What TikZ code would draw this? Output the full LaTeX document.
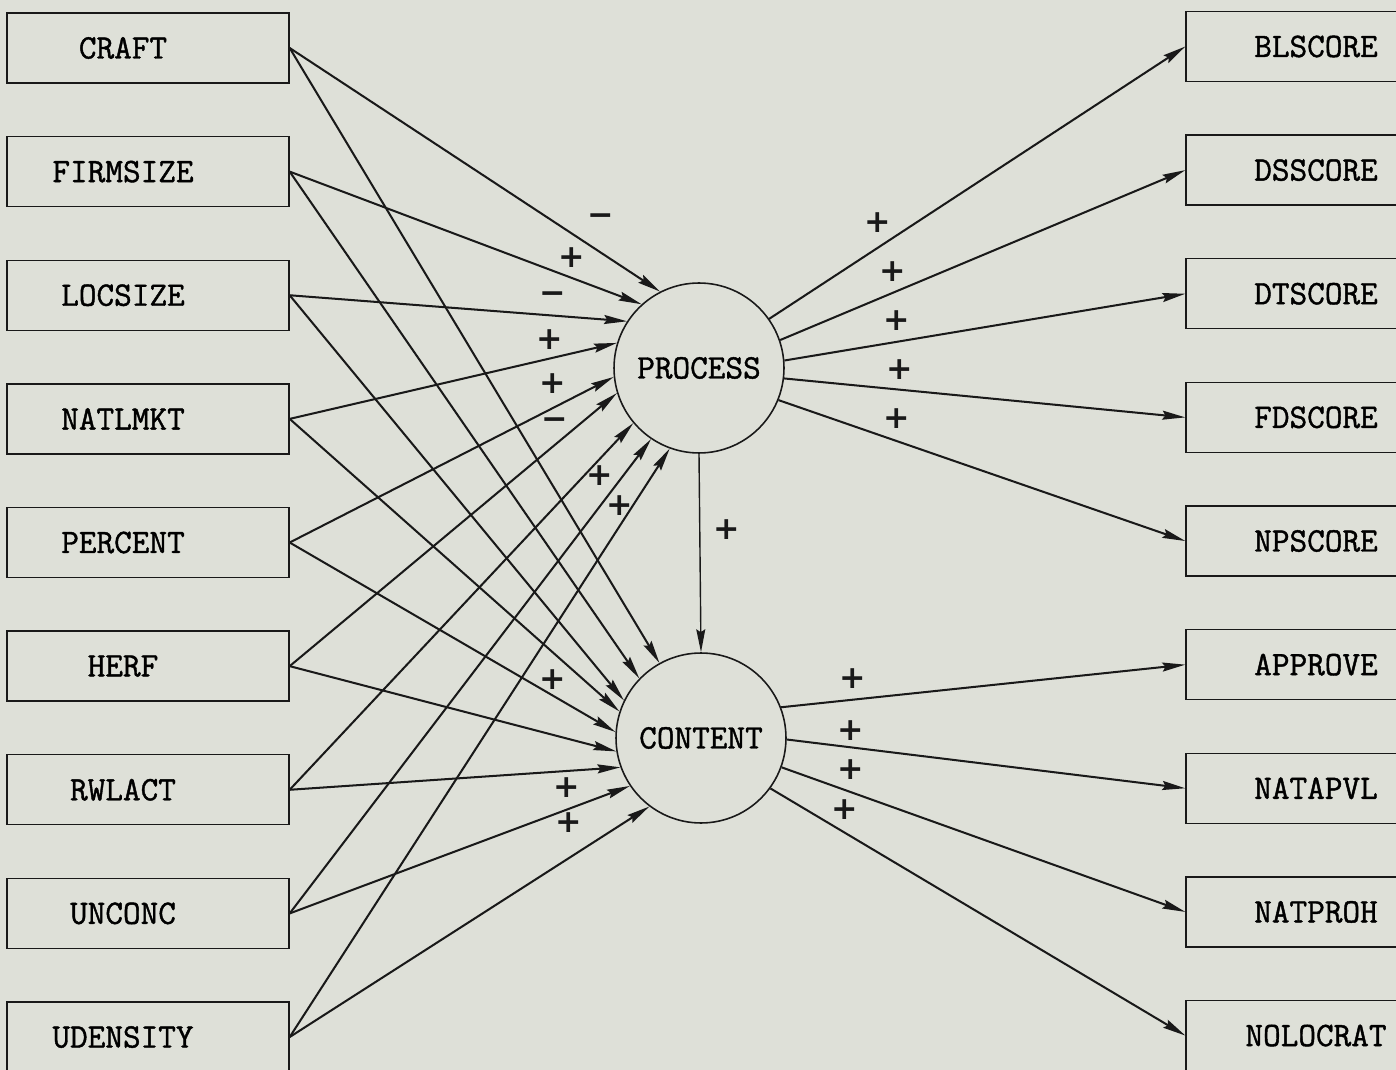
\documentclass[tikz,border=0pt]{standalone}
\usepackage{fontspec}
\usepackage{tikz}
\usetikzlibrary{arrows.meta,positioning}
\newfontfamily\boxfont{Latin Modern Mono}[FakeBold=1.2]
\newfontfamily\signfont{DejaVu Sans}
\definecolor{paper}{RGB}{222,224,216}
\definecolor{ink}{RGB}{25,25,25}

\begin{document}
\begin{tikzpicture}[
  x=0.02cm, y=-0.02cm,
  font=\fontsize{19.5}{21}\selectfont\boxfont,
  node distance=1.045cm,
  lbox/.style={draw=ink,line width=0.8pt,minimum width=5.64cm,minimum height=1.4cm,inner sep=0pt,label={[xshift=-0.5cm]center:#1}},
  rbox/.style={draw=ink,line width=0.8pt,minimum width=5.64cm,minimum height=1.4cm,inner sep=0pt,label={[xshift=-0.22cm]center:#1}},
  latent/.style={circle,draw=ink,fill=paper,line width=0.9pt,minimum size=3.4cm,inner sep=0pt},
  arr/.style={-{Stealth[length=4.6mm,width=1.8mm,inset=0.6mm]},line width=1.15pt,draw=ink},
  sgn/.style={font=\fontsize{18}{18}\selectfont\signfont\bfseries,inner sep=0pt,text=ink},
]
\clip (0,0) rectangle (1396,1070);
\fill[paper] (0,0) rectangle (1396,1070);

% exogenous variables
\node[lbox=CRAFT] (craft) at (148,48) {};
\node[lbox=FIRMSIZE,below=of craft] (firmsize) {};
\node[lbox=LOCSIZE,below=of firmsize] (locsize) {};
\node[lbox=NATLMKT,below=of locsize] (natlmkt) {};
\node[lbox=PERCENT,below=of natlmkt] (percent) {};
\node[lbox=HERF,below=of percent] (herf) {};
\node[lbox=RWLACT,below=of herf] (rwlact) {};
\node[lbox=UNCONC,below=of rwlact] (unconc) {};
\node[lbox=UDENSITY,below=of unconc] (udensity) {};

% indicators
\node[rbox=BLSCORE] (blscore) at (1327,46.5) {};
\node[rbox=DSSCORE,below=of blscore] (dsscore) {};
\node[rbox=DTSCORE,below=of dsscore] (dtscore) {};
\node[rbox=FDSCORE,below=of dtscore] (fdscore) {};
\node[rbox=NPSCORE,below=of fdscore] (npscore) {};
\node[rbox=APPROVE,below=of npscore] (approve) {};
\node[rbox=NATAPVL,below=of approve] (natapvl) {};
\node[rbox=NATPROH,below=of natapvl] (natproh) {};
\node[rbox=NOLOCRAT,below=of natproh] (nolocrat) {};

% latent constructs
\node[latent] (process) at (699,368) {PROCESS};
\node[latent] (content) at (701,738) {CONTENT};

\foreach \src/\a/\b in {craft/117/119, firmsize/132/136, locsize/147/154,
    natlmkt/163/162, percent/186/176, herf/197/189, rwlact/220/200,
    unconc/236/214, udensity/250/233}{
  \draw[arr] (\src.east) -- (process.\a);
  \draw[arr] (\src.east) -- (content.\b);
}
\foreach \a/\dst in {35/blscore, 19/dsscore, 5/dtscore, -7/fdscore, -22/npscore}
  \draw[arr] (process.\a) -- (\dst.west);
\foreach \a/\dst in {21/approve, -1/natapvl, -20/natproh, -36/nolocrat}
  \draw[arr] (content.\a) -- (\dst.west);
\draw[arr,line width=0.8pt] (process.south) -- (content.north);

% signs
\foreach \x/\y/\s [count=\i] in {601/220/−, 572/258/+, 553/298/−, 550/340/+,
    553/384/+, 555/424/−, 600/476/+, 620/506/+, 553/680/+, 567/788/+,
    569/823/+, 878/223/+, 893/272/+, 897/321/+, 900/370/+, 897/419/+,
    853/679/+, 851/731/+, 851/770/+, 845/810/+, 727/530/+}
  \node[sgn] (sgn\i) at (\x,\y) {\s};
\end{tikzpicture}
\end{document}
